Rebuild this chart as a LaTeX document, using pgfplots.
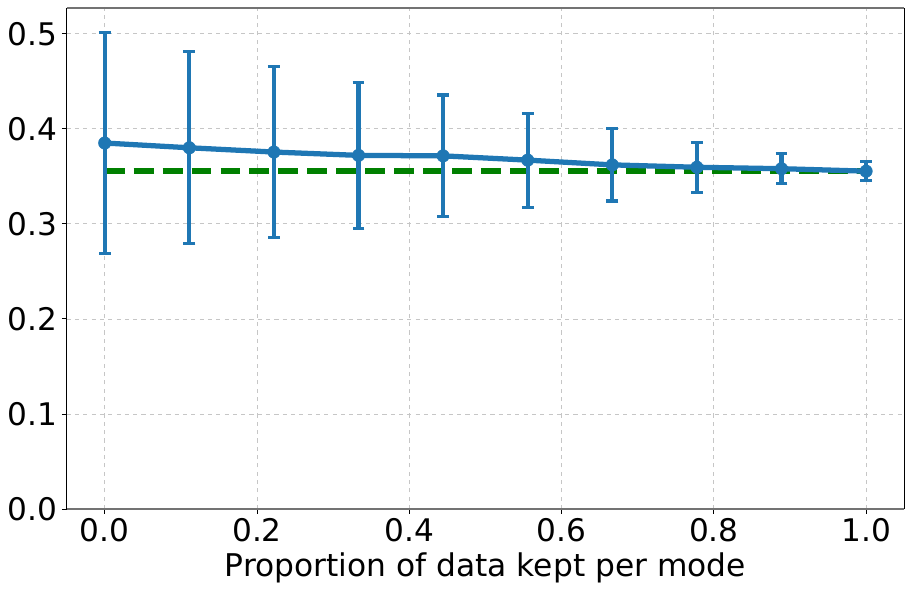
\documentclass[border=0pt]{standalone}
\usepackage{fontspec}
\setmainfont{DejaVu Sans}
\usepackage{pgfplots}
\pgfplotsset{compat=1.18}
\definecolor{mplblue}{HTML}{1F77B4}
\definecolor{mplgreen}{HTML}{008000}
\begin{document}
\begin{tikzpicture}
\begin{axis}[
    scale only axis,
    width=604.8pt, height=361.8pt,
    xmin=-0.05, xmax=1.05,
    ymin=0, ymax=0.527,
    xtick={0,0.2,0.4,0.6,0.8,1.0},
    ytick={0,0.1,0.2,0.3,0.4,0.5},
    /pgf/number format/assume math mode=true,
    xticklabel style={/pgf/number format/.cd, fixed, fixed zerofill, precision=1},
    yticklabel style={/pgf/number format/.cd, fixed, fixed zerofill, precision=1},
    ticklabel style={font=\fontsize{22.5}{26}\selectfont},
    xlabel={Proportion of data kept per mode},
    xlabel style={font=\fontsize{22.6}{26}\selectfont, yshift=-1pt},
    tick align=outside,
    xtick pos=bottom, ytick pos=left,
    major tick length=3.5pt,
    tick style={black, line width=0.6pt},
    grid=major,
    grid style={gray!45, dashed, line width=0.5pt},
    separate axis lines,
    x axis line style={black!55, line width=0.8pt},
    y axis line style={black, line width=0.8pt},
]
% mean reference
\addplot[mplgreen, line width=3.8pt, dash pattern=on 14.4pt off 6.5pt, no marks]
    coordinates {(0,0.3555) (1,0.3555)};

\addplot[
    mplblue, line width=3.8pt,
    mark=*, mark size=4.5pt, mark options={solid, fill=mplblue, line width=0.4pt},
    error bars/.cd,
    y dir=both, y explicit,
    error bar style={line width=3.1pt, mplblue},
    error mark options={mplblue, rotate=90, line width=2.2pt, mark size=4.3pt},
] coordinates {
    (0.000000, 0.3850) +- (0, 0.1160)
    (0.111111, 0.3800) +- (0, 0.1010)
    (0.222222, 0.3755) +- (0, 0.0895)
    (0.333333, 0.3720) +- (0, 0.0770)
    (0.444444, 0.3715) +- (0, 0.0640)
    (0.555556, 0.3670) +- (0, 0.0495)
    (0.666667, 0.3620) +- (0, 0.0380)
    (0.777778, 0.3595) +- (0, 0.0265)
    (0.888889, 0.3580) +- (0, 0.0160)
    (1.000000, 0.3554) +- (0, 0.0097)
};
\end{axis}
% margins as in the reference
\path (current bounding box.south west) ++(-2pt,-4pt);
\path (current bounding box.north east) ++(6pt,5.4pt);
\end{tikzpicture}
\end{document}
